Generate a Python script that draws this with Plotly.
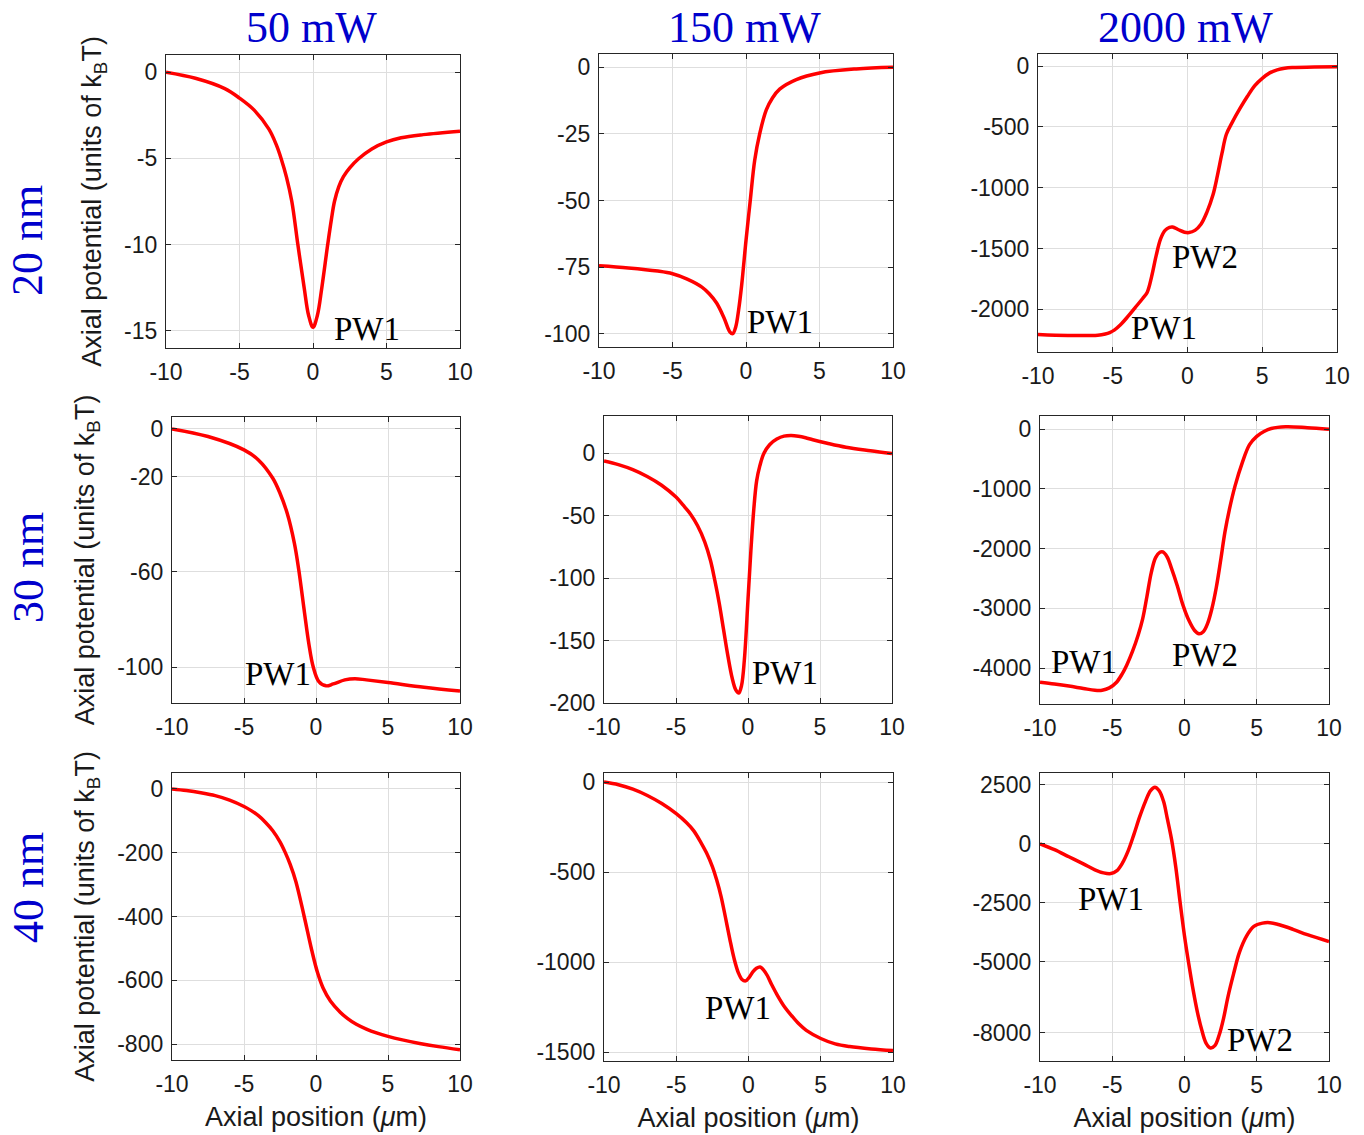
import plotly.graph_objects as go

W, H = 1364, 1135

# ---------------- data ----------------
col_titles = ["50 mW", "150 mW", "2000 mW"]
row_titles = ["20 nm", "30 nm", "40 nm"]

x_11 = [-10, -8, -6, -5, -4, -3, -2.5, -2.17, -1.8, -1.44, -1.03, -0.6, -0.3, 0, 0.3, 0.6, 1.0, 1.25, 1.46, 1.75, 2.07, 2.5, 3.1, 4, 5, 6, 7.5, 10]
y_11 = [0, -0.35, -0.95, -1.5, -2.2, -3.3, -4.2, -5.0, -6.1, -7.5, -10, -12.5, -14.1, -14.8, -14.1, -12.5, -10, -8.55, -7.5, -6.65, -6.06, -5.55, -5.02, -4.45, -4.04, -3.8, -3.62, -3.42]

x_12 = [-10, -8, -6, -5, -4, -3, -2.5, -2, -1.5, -1.1, -0.9, -0.7, -0.5, -0.3, 0, 0.29, 0.59, 0.93, 1.38, 1.8, 2.29, 3.42, 5, 7.5, 10]
y_12 = [-74.5, -75.3, -76.5, -77.5, -79.5, -82.5, -85, -88.5, -94, -99.3, -100, -97.5, -91, -82, -65, -50, -35, -25, -16, -11.5, -8.2, -4.6, -2.1, -0.6, 0]

x_13 = [-10, -8, -6, -5.5, -5.2, -4.9, -4.5, -4, -3.5, -3, -2.7, -2.4, -2.1, -1.8, -1.5, -1.2, -1.0, -0.6, -0.2, 0.1, 0.5, 0.9, 1.3, 1.7, 2.0, 2.3, 2.6, 3.0, 3.5, 4.0, 4.5, 5.0, 5.5, 6, 6.5, 7, 8.5, 10]
y_13 = [-2206, -2214, -2212, -2202, -2190, -2170, -2128, -2060, -1985, -1910, -1860, -1730, -1560, -1420, -1350, -1325, -1322, -1345, -1365, -1368, -1350, -1300, -1200, -1060, -900, -720, -560, -460, -350, -250, -160, -100, -55, -30, -17, -11, -6, -5]

x_21 = [-10, -7.5, -5, -4, -3, -2.5, -2, -1.5, -1.2, -0.8, -0.5, -0.2, 0.2, 0.7, 1.2, 2, 2.7, 3.5, 5, 7.5, 10]
y_21 = [0, -3.2, -8.8, -13, -20.7, -27, -35.4, -48, -59, -77, -90, -99.7, -106, -107.8, -107, -105.3, -104.8, -105.3, -106.4, -108.4, -110]

x_22 = [-10, -9, -8, -7, -6, -5, -4.5, -4, -3.5, -3, -2.6, -2.3, -2.0, -1.7, -1.4, -1.1, -0.85, -0.64, -0.45, -0.25, 0, 0.2, 0.4, 0.6, 0.82, 1.1, 1.5, 2, 2.5, 3, 3.5, 4, 4.5, 5.5, 6.8, 8.5, 10]
y_22 = [-6, -9, -13, -18.5, -25.5, -35, -41.5, -48.5, -58, -71, -86, -102, -120, -141, -162, -180, -189.5, -192, -186, -165, -117, -78, -45, -22, -10, 0, 7, 11.5, 13.9, 14.4, 13.8, 12.6, 11.0, 8.2, 5.0, 2.2, 0]

x_23 = [-10, -9, -8, -7, -6.2, -5.7, -5.2, -4.7, -4.3, -4.0, -3.6, -3.2, -2.9, -2.6, -2.3, -2.0, -1.7, -1.5, -1.2, -0.9, -0.5, -0.1, 0.3, 0.7, 1.0, 1.3, 1.6, 1.9, 2.2, 2.5, 2.8, 3.1, 3.5, 4.0, 4.5, 5.0, 5.5, 6.0, 7.0, 8.5, 10]
y_23 = [-4235, -4265, -4300, -4340, -4370, -4370, -4330, -4235, -4090, -3950, -3720, -3440, -3180, -2800, -2400, -2150, -2060, -2055, -2140, -2330, -2620, -2950, -3200, -3370, -3425, -3390, -3250, -3000, -2650, -2200, -1720, -1350, -950, -560, -260, -120, -40, 10, 40, 25, 0]

x_31 = [-10, -9, -8, -7, -6, -5, -4.5, -4, -3.5, -3, -2.5, -2.14, -1.8, -1.4, -0.82, -0.3, 0.1, 0.5, 1.0, 1.68, 2.2, 2.8, 3.5, 4.2, 5, 6, 7.2, 8.5, 10]
y_31 = [0, -5, -12, -21, -35, -55, -68, -84, -105, -131, -166, -199, -236, -290, -400, -505, -575, -625, -665, -700, -720, -738, -753, -765, -776, -787, -798, -808, -818]

x_32 = [-10, -9, -8, -7, -6, -5, -4.3, -3.8, -3.3, -2.9, -2.5, -2.2, -1.9, -1.6, -1.3, -1.0, -0.7, -0.45, -0.2, 0.05, 0.3, 0.55, 0.8, 1.05, 1.3, 1.6, 2.0, 2.5, 3, 3.5, 4, 5, 6, 7, 8.5, 10]
y_32 = [0, -15, -40, -75, -120, -176, -225, -270, -335, -395, -470, -545, -635, -750, -870, -980, -1060, -1097, -1105, -1085, -1055, -1035, -1028, -1045, -1075, -1125, -1185, -1250, -1300, -1345, -1380, -1425, -1455, -1470, -1483, -1492]

x_33 = [-10, -9, -8, -7, -6.2, -5.6, -5.1, -4.7, -4.3, -3.9, -3.5, -3.1, -2.7, -2.35, -2.05, -1.75, -1.45, -1.2, -0.9, -0.6, -0.3, 0, 0.3, 0.6, 0.9, 1.2, 1.5, 1.8, 2.1, 2.4, 2.7, 3.0, 3.4, 3.8, 4.3, 4.8, 5.4, 5.9, 6.5, 7.5, 8.5, 10]
y_33 = [0, -250, -550, -850, -1100, -1230, -1260, -1150, -820, -300, 400, 1150, 1800, 2250, 2400, 2250, 1800, 1100, 200, -1000, -2500, -3900, -5100, -6200, -7150, -7900, -8450, -8650, -8550, -8100, -7400, -6500, -5500, -4600, -3900, -3500, -3360, -3340, -3420, -3620, -3850, -4143]

series_x = [[x_11, x_12, x_13], [x_21, x_22, x_23], [x_31, x_32, x_33]]
series_y = [[y_11, y_12, y_13], [y_21, y_22, y_23], [y_31, y_32, y_33]]

y_ranges = [[[-16, 1], [-105, 5], [-2350, 100]],
            [[-115, 5], [-200, 30], [-4600, 220]],
            [[-850, 50], [-1550, 50], [-9200, 3000]]]
y_ticks = [[[0, -5, -10, -15], [0, -25, -50, -75, -100], [0, -500, -1000, -1500, -2000]],
           [[0, -20, -60, -100], [0, -50, -100, -150, -200], [0, -1000, -2000, -3000, -4000]],
           [[0, -200, -400, -600, -800], [0, -500, -1000, -1500], [2500, 0, -2500, -5000, -8000]]]
x_ticks = [-10, -5, 0, 5, 10]

# annotations: (row, col, text, x, y)
labels = [
    (0, 0, "PW1", 3.67, -14.9),
    (0, 1, "PW1", 2.34, -95.6),
    (0, 2, "PW1", -1.54, -2151),
    (0, 2, "PW2", 1.14, -1566),
    (1, 0, "PW1", -2.67, -102.8),
    (1, 1, "PW1", 2.55, -176),
    (1, 2, "PW1", -6.96, -3899),
    (1, 2, "PW2", 1.41, -3788),
    (2, 1, "PW1", -0.71, -1257),
    (2, 2, "PW1", -5.12, -2357),
    (2, 2, "PW2", 5.25, -8314),
]

# ---------------- layout geometry (pixels) ----------------
boxes = [[(166, 460, 55, 348), (599, 893, 54, 347), (1038, 1337, 54, 352)],
         [(172, 460, 417, 703), (604, 892, 416, 703), (1040, 1329, 416, 704)],
         [(172, 460, 773, 1060), (604, 893, 773, 1061), (1040, 1329, 773, 1061)]]

SANS = "Liberation Sans, Arial, sans-serif"
SERIF = "Liberation Serif, Times New Roman, serif"

fig = go.Figure()
layout = dict(width=W, height=H, margin=dict(l=0, r=0, t=0, b=0, autoexpand=False),
              template="none",
              paper_bgcolor="white", plot_bgcolor="white", showlegend=False,
              font=dict(family=SANS, size=23, color="#1a1a1a"))


def fmt(v):
    return str(v)


axis_common = dict(showline=True, mirror="ticks", linecolor="#262626", linewidth=1.3,
                   showgrid=True, gridcolor="#dedede", gridwidth=1, automargin=False,
                   ticks="inside", ticklen=5, tickcolor="#262626", zeroline=False,
                   tickfont=dict(family=SANS, size=23, color="#1a1a1a"))

annotations = []
for r in range(3):
    for c in range(3):
        k = r * 3 + c + 1
        xa = "xaxis" if k == 1 else f"xaxis{k}"
        ya = "yaxis" if k == 1 else f"yaxis{k}"
        xr = "x" if k == 1 else f"x{k}"
        yr = "y" if k == 1 else f"y{k}"
        x0, x1, y0, y1 = boxes[r][c]
        xd = dict(axis_common, domain=[x0 / W, x1 / W], range=[-10, 10], tickvals=x_ticks,
                  ticktext=[fmt(v) for v in x_ticks], anchor=yr, ticklabelstandoff=3)
        yd = dict(axis_common, domain=[1 - y1 / H, 1 - y0 / H], range=y_ranges[r][c],
                  tickvals=y_ticks[r][c], ticktext=[fmt(v) for v in y_ticks[r][c]],
                  anchor=xr, ticklabelstandoff=3)
        if r == 2:
            xd["title"] = dict(text="Axial position (<i>μ</i>m)", standoff=11,
                               font=dict(family=SANS, size=27, color="#1a1a1a"))
        if c == 0:
            yd["title"] = dict(text="Axial potential (units of k<sub>B</sub>T)", standoff=14,
                               font=dict(family=SANS, size=27, color="#1a1a1a"))
        layout[xa] = xd
        layout[ya] = yd
        fig.add_trace(go.Scatter(x=series_x[r][c], y=series_y[r][c], mode="lines",
                                 line=dict(color="#ff0000", width=3.5, shape="spline", smoothing=1.0),
                                 xaxis=xr, yaxis=yr, hoverinfo="skip"))

for (r, c, t, ax, ay) in labels:
    k = r * 3 + c + 1
    annotations.append(dict(text=t, x=ax, y=ay, xref="x" if k == 1 else f"x{k}",
                            yref="y" if k == 1 else f"y{k}", showarrow=False,
                            font=dict(family=SERIF, size=33, color="black")))

col_centers = [311, 744, 1185]
for t, cx in zip(col_titles, col_centers):
    annotations.append(dict(text=t, x=cx / W, y=1 - 27 / H, xref="paper", yref="paper",
                            showarrow=False, xanchor="center", yanchor="middle",
                            font=dict(family=SERIF, size=44, color="#0000cc")))
row_centers = [241, 568, 888]
for t, cy in zip(row_titles, row_centers):
    annotations.append(dict(text=t, x=28 / W, y=1 - cy / H, xref="paper", yref="paper",
                            showarrow=False, xanchor="center", yanchor="middle", textangle=-90,
                            font=dict(family=SERIF, size=44, color="#0000cc")))

layout["annotations"] = annotations
fig.update_layout(**layout)
fig.write_html("out.html")
